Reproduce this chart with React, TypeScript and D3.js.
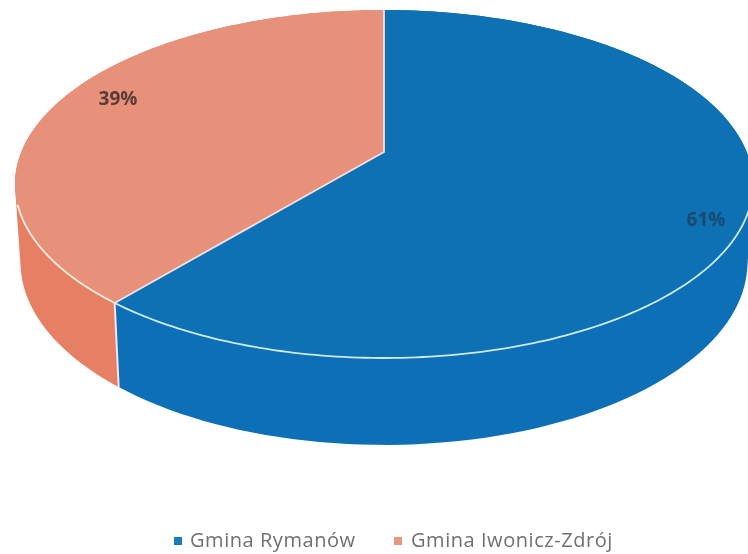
import React from "react";
import * as d3 from "d3";

const categories = ["Gmina Rymanów", "Gmina Iwonicz-Zdrój"];
const values = [61, 39];
const topColors = ["#0871b3", "#e8917a"];
const sideColors = ["#0a70b6", "#e67f64"];
const labelColors = ["#1c4a6e", "#5a3b38"];
const legendColors = ["#1c7ab8", "#e39a7d"];

const W = 748;
const H = 554;
const APEX_X = 384;
const APEX_Y = 152;
const TILT_A = 140.16;
const TILT_C = 0.1839;
const RX = 362.7;
const SCALE_BOTTOM_X = 0.985;
const SCALE_BOTTOM_Y = 1.05;
const SHIFT_BOTTOM_Y = 69;

type P = [number, number];
const top = (t: number): P => {
  const u = Math.sin(t);
  const v = Math.cos(t);
  const d = 1 + TILT_C * v;
  return [APEX_X + (RX * u) / d, (APEX_Y - TILT_A * v) / d];
};
const bottom = (t: number): P => {
  const [x, y] = top(t);
  return [APEX_X + (x - APEX_X) * SCALE_BOTTOM_X, y * SCALE_BOTTOM_Y + SHIFT_BOTTOM_Y];
};
const sampleAngles = (a: number, b: number) => d3.range(0, 121).map((i) => a + ((b - a) * i) / 120);
const line = d3.line<P>();

export default function App() {
  const arcs = d3.pie<number>().sort(null)(values);
  const split = arcs[0].endAngle;
  return (
    <svg width={W} height={H} style={{ position: "absolute", left: 0, top: 0, background: "#fff" }}>
      <defs>
        <filter id="soft" x="-5%" y="-5%" width="110%" height="110%">
          <feGaussianBlur stdDeviation="0.6" />
        </filter>
      </defs>
      <g filter="url(#soft)">
        {/* side walls: orange first, blue over it, so the shared seam stays exact */}
        {[1, 0].map((i) => {
          const a = arcs[i];
          const ts = sampleAngles(a.startAngle, a.endAngle);
          const hull = d3.polygonHull([...ts.map(top), ...ts.map(bottom)]) as P[];
          return <path key={"s" + i} d={line(hull) + "Z"} fill={sideColors[i]} />;
        })}
        <path d={line([top(split), bottom(split)]) as string} stroke="#f4e6ea" strokeWidth={2} fill="none" />
        {arcs.map((a, i) => {
          const ts = sampleAngles(a.startAngle, a.endAngle);
          const pts: P[] = [[APEX_X, APEX_Y], ...ts.map(top)];
          return <path key={"t" + i} d={line(pts) + "Z"} fill={topColors[i]} />;
        })}
        {/* light rim along the front edge */}
        <path
          d={line(sampleAngles(Math.PI * 0.6, split).map(top)) as string}
          stroke="#cfeaf5"
          strokeWidth={1.8}
          fill="none"
        />
        <path
          d={line(sampleAngles(split, Math.PI * 1.404).map(top)) as string}
          stroke="#fdeedd"
          strokeWidth={1.8}
          fill="none"
        />
        <path
          d={line([top(0), [APEX_X, APEX_Y], top(split)]) as string}
          stroke="#efe0e6"
          strokeWidth={1.8}
          fill="none"
        />
        <text x={706} y={226} textAnchor="middle" fontFamily="'Open Sans', sans-serif" fontWeight={700} fontSize={19} fill={labelColors[0]}>
          {values[0]}%
        </text>
        <text x={118} y={105} textAnchor="middle" fontFamily="'Open Sans', sans-serif" fontWeight={700} fontSize={19} fill={labelColors[1]}>
          {values[1]}%
        </text>
        {categories.map((c, i) => {
          const sx = [174, 394][i];
          const tx = [190, 411][i];
          return (
            <g key={c}>
              <rect x={sx} y={537} width={8} height={8} fill={legendColors[i]} />
              <text x={tx} y={547} fontFamily="'Open Sans', sans-serif" fontSize={20} letterSpacing={0.55} fill="#707070">
                {c}
              </text>
            </g>
          );
        })}
      </g>
    </svg>
  );
}
